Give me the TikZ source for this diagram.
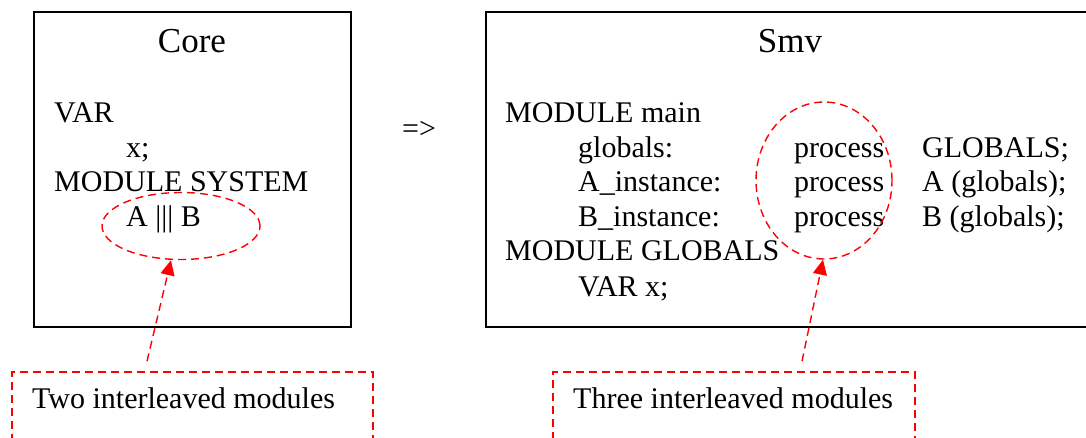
\documentclass[tikz,border=0pt]{standalone}
\usepackage{fontspec}
\setmainfont{Liberation Serif}
\newfontfamily\timesfam{Liberation Serif}
\usetikzlibrary{arrows.meta,shapes.geometric}

\tikzset{
  panel/.style={draw=black, line width=1.6pt, rectangle, inner sep=0pt},
  title/.style={font=\timesfam\fontsize{35}{42}\selectfont, anchor=base, inner sep=0pt},
  code/.style={font=\timesfam\fontsize{30}{36}\selectfont, anchor=base west, inner sep=0pt},
  mark ring/.style={draw=red, ellipse, line width=1.4pt, dash pattern=on 8pt off 5pt, inner sep=0pt},
  note/.style={draw=red, rectangle, line width=1.4pt, dash pattern=on 8pt off 5pt, inner sep=0pt},
  pointer/.style={draw=red, line width=1.4pt, dash pattern=on 8pt off 5pt,
                  -{Triangle[length=15pt,width=14pt,fill=red]}},
}

\begin{document}
\begin{tikzpicture}[x=1pt,y=-1pt]
  \useasboundingbox (0,0) rectangle (1086,438);
  \clip (0,0) rectangle (1086,438);

  % Core panel
  \node[panel, minimum width=317pt, minimum height=315pt] (core) at (192.5,169.5) {};
  \node[title] (coreT) at (192,52.5) {Core};
  \node[code] (c1) at (54,123) {VAR};
  \node[code] (c2) at (126,158) {x;};
  \node[code] (c3) at (54,192) {MODULE SYSTEM};
  \node[code] (c4) at (126,227) {A ||| B};

  % transformation sign
  \node[code] (arrowsign) at (402,138.5) {=>};

  % Smv panel (runs past the right margin)
  \node[panel, minimum width=640pt, minimum height=315pt] (smv) at (806,169.5) {};
  \node[title] (smvT) at (790,52.5) {Smv};
  \node[code] (s1) at (505,123) {MODULE main};
  \node[code] (s2) at (578,158) {globals:};
  \node[code] (s3) at (794,158) {process};
  \node[code] (s4) at (922,158) {GLOBALS;};
  \node[code] (s5) at (578,192) {A\_instance:};
  \node[code] (s6) at (794,192) {process};
  \node[code] (s7) at (922,192) {A (globals);};
  \node[code] (s8) at (578,227) {B\_instance:};
  \node[code] (s9) at (794,227) {process};
  \node[code] (s10) at (922,227) {B (globals);};
  \node[code] (s11) at (505,261) {MODULE GLOBALS};
  \node[code] (s12) at (578,296) {VAR x;};

  % highlighted parts
  \node[mark ring, minimum width=158pt, minimum height=67pt] (ringL) at (181,226) {};
  \node[mark ring, minimum width=136pt, minimum height=157pt] (ringR) at (824,180.5) {};

  % annotations (cut off by the lower margin)
  \node[note, minimum width=361pt, minimum height=100pt] (noteL) at (192.5,422) {};
  \node[code] (noteLT) at (32,408) {Two interleaved modules};
  \node[note, minimum width=362pt, minimum height=100pt] (noteR) at (734,422) {};
  \node[code] (noteRT) at (573,408) {Three interleaved modules};

  % pointers from annotations to highlighted parts
  \draw[pointer] ([shift={(-45.5,-10)}]noteL.north) -- ([xshift=-10pt]ringL.south);
  \draw[pointer] ([shift={(68,-10)}]noteR.north) -- ([xshift=-1pt]ringR.south);
\end{tikzpicture}
\end{document}
